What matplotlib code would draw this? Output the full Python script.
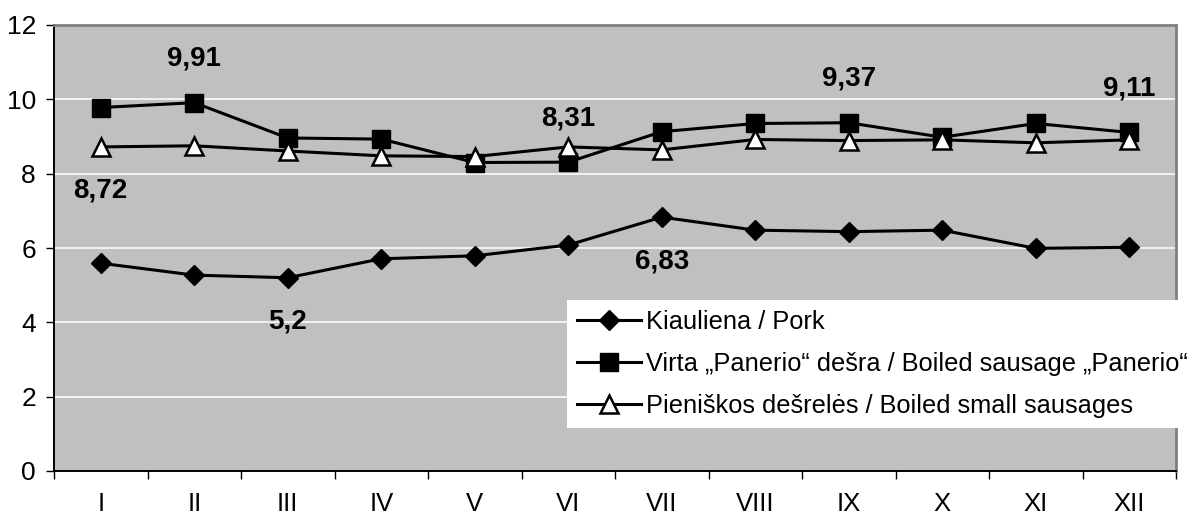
import numpy as np
import matplotlib.pyplot as plt

plt.rcParams['font.family'] = ['Liberation Sans', 'DejaVu Sans']

# data
months = ['I', 'II', 'III', 'IV', 'V', 'VI', 'VII', 'VIII', 'IX', 'X', 'XI', 'XII']
pork = [5.59, 5.27, 5.2, 5.71, 5.79, 6.08, 6.83, 6.48, 6.44, 6.48, 5.99, 6.02]
panerio = [9.78, 9.91, 8.96, 8.93, 8.30, 8.31, 9.13, 9.35, 9.37, 8.98, 9.35, 9.11]
small = [8.72, 8.75, 8.61, 8.48, 8.46, 8.72, 8.64, 8.92, 8.89, 8.91, 8.83, 8.91]
names = ['Kiauliena / Pork',
         'Virta \u201ePanerio\u201c dešra / Boiled sausage \u201ePanerio\u201c',
         'Pieniškos dešrelės / Boiled small sausages']

# which points get a value label: (series, month index, above?)
labelled = [(pork, 2, False), (pork, 6, False),
            (panerio, 1, True), (panerio, 5, True), (panerio, 8, True), (panerio, 11, True),
            (small, 0, False)]

fig = plt.figure(figsize=(11.91, 5.2), dpi=100)
ax = fig.add_axes([54/1191, 1-471/520, 1122/1191, 446/520])
ax.set_facecolor('#c0c0c0')

x = np.arange(len(months))
lw = 2.2
l1, = ax.plot(x, pork, color='black', lw=lw, marker='D', ms=10, mfc='black', mec='black', zorder=3)
l2, = ax.plot(x, panerio, color='black', lw=lw, marker='s', ms=13, mfc='black', mec='black', zorder=3)
l3, = ax.plot(x, small, color='black', lw=lw, marker='^', ms=13, mfc='white', mec='black', mew=1.8, zorder=4)

for ser, i, up in labelled:
    v = ser[i]
    txt = f'{v:g}'.replace('.', ',')
    ax.annotate(txt, (x[i], v), xytext=(0, 44 if up else -44), textcoords='offset pixels',
                ha='center', va='center', fontsize=20, fontweight='bold', zorder=5)

ax.set_xlim(-0.5, 11.5)
ax.set_ylim(0, 12)
ax.set_yticks(np.arange(0, 13, 2))
ax.yaxis.grid(True, color='white', lw=1.1)
ax.set_axisbelow(True)

ax.set_xticks(np.arange(-0.5, 12, 1))
ax.set_xticklabels([])
ax.set_xticks(x, minor=True)
ax.set_xticklabels(months, minor=True)
ax.tick_params(axis='x', which='major', length=6, width=1, direction='out')
ax.tick_params(axis='x', which='minor', length=0, pad=15, labelsize=18.5)
ax.tick_params(axis='y', length=6, width=1, pad=7, labelsize=19)

for s in ['left', 'bottom']:
    ax.spines[s].set_color('black')
    ax.spines[s].set_linewidth(1.4)
for s in ['top', 'right']:
    ax.spines[s].set_color('#808080')
    ax.spines[s].set_linewidth(2)

leg = ax.legend([l1, l2, l3], names, loc='upper left',
                bbox_to_anchor=(567/1191, 1-300/520), bbox_transform=fig.transFigure,
                fontsize=18.3, frameon=True, fancybox=False, framealpha=1,
                handlelength=2.5, handletextpad=0.2, labelspacing=0.7,
                borderpad=0.4, borderaxespad=0)
leg.get_frame().set_facecolor('white')
leg.get_frame().set_edgecolor('white')
leg.get_frame().set_linewidth(0)

fig.savefig('out.png', dpi=100)
